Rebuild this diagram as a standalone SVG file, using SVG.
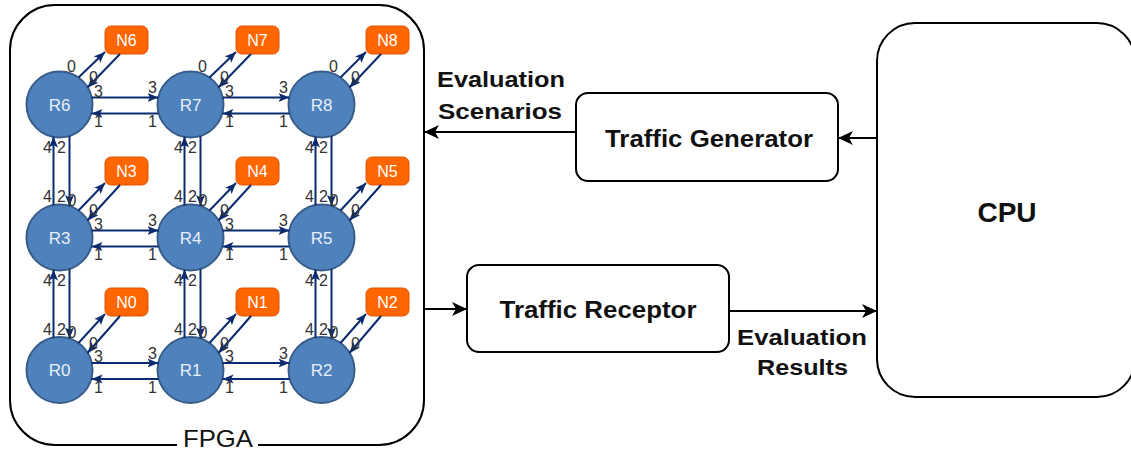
<svg xmlns="http://www.w3.org/2000/svg" width="1131" height="452" viewBox="0 0 1131 452">
<style>
.box{fill:#fff;stroke:#000;stroke-width:2}
.router circle{fill:#4F81BD;stroke:#385D8A;stroke-width:2}
.router text{font-family:"Liberation Sans",Arial,sans-serif;font-size:17px;fill:#E8EEF7;text-anchor:middle}
.node rect{fill:#FF6600;stroke:#E05500;stroke-width:1}
.node text{font-family:"Liberation Sans",Arial,sans-serif;font-size:16px;fill:#fff;text-anchor:middle}
.nv{stroke:#0B2B6E;stroke-width:2;fill:none;marker-end:url(#na)}
.bk{stroke:#000;stroke-width:2;fill:none;marker-end:url(#ba)}
.pl{font-family:"Liberation Sans",Arial,sans-serif;font-size:16px;fill:#333;text-anchor:middle}
.bl{font-family:"Liberation Sans",Arial,sans-serif;font-weight:bold;fill:#111;text-anchor:middle}
</style>
<defs>
<marker id="na" markerUnits="userSpaceOnUse" markerWidth="12" markerHeight="10" refX="11" refY="5" orient="auto"><path d="M0,0.5 L11,5 L0,9.5 L2.5,5 Z" fill="#0B2B6E"/></marker>
<marker id="ba" markerUnits="userSpaceOnUse" markerWidth="16" markerHeight="16" refX="15" refY="7" orient="auto"><path d="M0,0 L15,7 L0,14 L4,7 Z" fill="#000"/></marker>
</defs>

<g id="fpga">
<rect class="box" x="10" y="5" width="414" height="440" rx="45"/>
<rect x="177" y="428" width="81" height="22" fill="#fff"/>
<text x="218" y="447" font-family="Liberation Sans,Arial,sans-serif" font-size="24" fill="#111" text-anchor="middle" textLength="70" lengthAdjust="spacingAndGlyphs">FPGA</text>
</g>

<g id="cpu">
<rect class="box" x="877" y="23" width="258" height="374" rx="38"/>
<text class="bl" x="1007" y="222" font-size="28">CPU</text>
</g>

<g id="traffic-generator">
<rect class="box" x="576" y="93" width="262" height="88" rx="12"/>
<text class="bl" x="709" y="147" font-size="24" textLength="208" lengthAdjust="spacingAndGlyphs">Traffic Generator</text>
</g>

<g id="traffic-receptor">
<rect class="box" x="467" y="265" width="262" height="87" rx="12"/>
<text class="bl" x="598" y="318" font-size="24" textLength="197" lengthAdjust="spacingAndGlyphs">Traffic Receptor</text>
</g>

<g id="routers">
<g id="R6" class="router"><circle cx="59.5" cy="104.5" r="33"/><text x="59.5" y="110.5">R6</text></g>
<g id="R7" class="router"><circle cx="190.5" cy="104.5" r="33"/><text x="190.5" y="110.5">R7</text></g>
<g id="R8" class="router"><circle cx="321.5" cy="104.5" r="33"/><text x="321.5" y="110.5">R8</text></g>
<g id="R3" class="router"><circle cx="59.5" cy="237.5" r="33"/><text x="59.5" y="243.5">R3</text></g>
<g id="R4" class="router"><circle cx="190.5" cy="237.5" r="33"/><text x="190.5" y="243.5">R4</text></g>
<g id="R5" class="router"><circle cx="321.5" cy="237.5" r="33"/><text x="321.5" y="243.5">R5</text></g>
<g id="R0" class="router"><circle cx="59.5" cy="370" r="33"/><text x="59.5" y="376">R0</text></g>
<g id="R1" class="router"><circle cx="190.5" cy="370" r="33"/><text x="190.5" y="376">R1</text></g>
<g id="R2" class="router"><circle cx="321.5" cy="370" r="33"/><text x="321.5" y="376">R2</text></g>
</g>

<g id="nodes">
<g id="N6" class="node"><rect x="105" y="26" width="43" height="28" rx="6"/><text x="126.5" y="45.5">N6</text></g>
<g id="N7" class="node"><rect x="236" y="26" width="43" height="28" rx="6"/><text x="257.5" y="45.5">N7</text></g>
<g id="N8" class="node"><rect x="366" y="26" width="43" height="28" rx="6"/><text x="387.5" y="45.5">N8</text></g>
<g id="N3" class="node"><rect x="105" y="157" width="43" height="28" rx="6"/><text x="126.5" y="176.5">N3</text></g>
<g id="N4" class="node"><rect x="236" y="157" width="43" height="28" rx="6"/><text x="257.5" y="176.5">N4</text></g>
<g id="N5" class="node"><rect x="366" y="157" width="43" height="28" rx="6"/><text x="387.5" y="176.5">N5</text></g>
<g id="N0" class="node"><rect x="105" y="288" width="43" height="28" rx="6"/><text x="126.5" y="307.5">N0</text></g>
<g id="N1" class="node"><rect x="236" y="288" width="43" height="28" rx="6"/><text x="257.5" y="307.5">N1</text></g>
<g id="N2" class="node"><rect x="366" y="288" width="43" height="28" rx="6"/><text x="387.5" y="307.5">N2</text></g>
</g>

<g id="connectors">
<path class="nv" d="M78.5,77.5 L105,52"/>
<path class="nv" d="M209.5,77.5 L236,52"/>
<path class="nv" d="M340.5,77.5 L366,52"/>
<path class="nv" d="M78.5,210.5 L105,183"/>
<path class="nv" d="M209.5,210.5 L236,183"/>
<path class="nv" d="M340.5,210.5 L366,183"/>
<path class="nv" d="M78.5,343 L105,314"/>
<path class="nv" d="M209.5,343 L236,314"/>
<path class="nv" d="M340.5,343 L366,314"/>
<path class="nv" d="M120,54 L87.5,87.5"/>
<path class="nv" d="M251,54 L218.5,87.5"/>
<path class="nv" d="M381,54 L349.5,87.5"/>
<path class="nv" d="M120,185 L87.5,220.5"/>
<path class="nv" d="M251,185 L218.5,220.5"/>
<path class="nv" d="M381,185 L349.5,220.5"/>
<path class="nv" d="M120,316 L87.5,353"/>
<path class="nv" d="M251,316 L218.5,353"/>
<path class="nv" d="M381,316 L349.5,353"/>
<path class="nv" d="M91.5,97.5 L158.5,97.5"/>
<path class="nv" d="M158.5,113.5 L91.5,113.5"/>
<path class="nv" d="M222.5,97.5 L289.5,97.5"/>
<path class="nv" d="M289.5,113.5 L222.5,113.5"/>
<path class="nv" d="M91.5,230.5 L158.5,230.5"/>
<path class="nv" d="M158.5,246.5 L91.5,246.5"/>
<path class="nv" d="M222.5,230.5 L289.5,230.5"/>
<path class="nv" d="M289.5,246.5 L222.5,246.5"/>
<path class="nv" d="M91.5,363 L158.5,363"/>
<path class="nv" d="M158.5,379 L91.5,379"/>
<path class="nv" d="M222.5,363 L289.5,363"/>
<path class="nv" d="M289.5,379 L222.5,379"/>
<path class="nv" d="M53.5,205.5 L53.5,136.5"/>
<path class="nv" d="M69.5,136 L69.5,206"/>
<path class="nv" d="M184.5,205.5 L184.5,136.5"/>
<path class="nv" d="M200.5,136 L200.5,206"/>
<path class="nv" d="M315.5,205.5 L315.5,136.5"/>
<path class="nv" d="M331.5,136 L331.5,206"/>
<path class="nv" d="M53.5,338 L53.5,269.5"/>
<path class="nv" d="M69.5,269 L69.5,338.5"/>
<path class="nv" d="M184.5,338 L184.5,269.5"/>
<path class="nv" d="M200.5,269 L200.5,338.5"/>
<path class="nv" d="M315.5,338 L315.5,269.5"/>
<path class="nv" d="M331.5,269 L331.5,338.5"/>
<path class="bk" d="M877,138 L838,138"/>
<path class="bk" d="M576,132 L424,132"/>
<path class="bk" d="M424,309 L467,309"/>
<path class="bk" d="M729,311 L877,311"/>
</g>

<g id="port-labels">
<text class="pl" x="71.5" y="72">0</text><text class="pl" x="93.5" y="83">0</text>
<text class="pl" x="202.5" y="72">0</text><text class="pl" x="224.5" y="83">0</text>
<text class="pl" x="333.5" y="72">0</text><text class="pl" x="355.5" y="83">0</text>
<text class="pl" x="98.5" y="96.5">3</text><text class="pl" x="152.5" y="93">3</text>
<text class="pl" x="229.5" y="96.5">3</text><text class="pl" x="283.5" y="93">3</text>
<text class="pl" x="98.5" y="127">1</text><text class="pl" x="152.5" y="127">1</text>
<text class="pl" x="229.5" y="127">1</text><text class="pl" x="283.5" y="127">1</text>
<text class="pl" x="47.5" y="153">4</text><text class="pl" x="61.5" y="153">2</text>
<text class="pl" x="178.5" y="153">4</text><text class="pl" x="192.5" y="153">2</text>
<text class="pl" x="309.5" y="153">4</text><text class="pl" x="323.5" y="153">2</text>
<text class="pl" x="47.5" y="202">4</text><text class="pl" x="61.5" y="202">2</text>
<text class="pl" x="178.5" y="202">4</text><text class="pl" x="192.5" y="202">2</text>
<text class="pl" x="309.5" y="202">4</text><text class="pl" x="323.5" y="202">2</text>
<text class="pl" x="72" y="205.5">0</text><text class="pl" x="93.5" y="216">0</text>
<text class="pl" x="203" y="205.5">0</text><text class="pl" x="224.5" y="216">0</text>
<text class="pl" x="334" y="205.5">0</text><text class="pl" x="355.5" y="216">0</text>
<text class="pl" x="98.5" y="229.5">3</text><text class="pl" x="152.5" y="226">3</text>
<text class="pl" x="229.5" y="229.5">3</text><text class="pl" x="283.5" y="226">3</text>
<text class="pl" x="98.5" y="260">1</text><text class="pl" x="152.5" y="260">1</text>
<text class="pl" x="229.5" y="260">1</text><text class="pl" x="283.5" y="260">1</text>
<text class="pl" x="47.5" y="286">4</text><text class="pl" x="61.5" y="286">2</text>
<text class="pl" x="178.5" y="286">4</text><text class="pl" x="192.5" y="286">2</text>
<text class="pl" x="309.5" y="286">4</text><text class="pl" x="323.5" y="286">2</text>
<text class="pl" x="47.5" y="334.5">4</text><text class="pl" x="61.5" y="334.5">2</text>
<text class="pl" x="178.5" y="334.5">4</text><text class="pl" x="192.5" y="334.5">2</text>
<text class="pl" x="309.5" y="334.5">4</text><text class="pl" x="323.5" y="334.5">2</text>
<text class="pl" x="72" y="338">0</text><text class="pl" x="93.5" y="348.5">0</text>
<text class="pl" x="203" y="338">0</text><text class="pl" x="224.5" y="348.5">0</text>
<text class="pl" x="334" y="338">0</text><text class="pl" x="355.5" y="348.5">0</text>
<text class="pl" x="98.5" y="362">3</text><text class="pl" x="152.5" y="358.5">3</text>
<text class="pl" x="229.5" y="362">3</text><text class="pl" x="283.5" y="358.5">3</text>
<text class="pl" x="98.5" y="392.5">1</text><text class="pl" x="152.5" y="392.5">1</text>
<text class="pl" x="229.5" y="392.5">1</text><text class="pl" x="283.5" y="392.5">1</text>
</g>

<g id="edge-labels">
<text class="bl" x="501" y="87" font-size="22" textLength="128" lengthAdjust="spacingAndGlyphs">Evaluation</text>
<text class="bl" x="500" y="118.5" font-size="22" textLength="124" lengthAdjust="spacingAndGlyphs">Scenarios</text>
<text class="bl" x="802" y="345" font-size="22" textLength="130" lengthAdjust="spacingAndGlyphs">Evaluation</text>
<text class="bl" x="802.5" y="375" font-size="22" textLength="91" lengthAdjust="spacingAndGlyphs">Results</text>
</g>
</svg>
